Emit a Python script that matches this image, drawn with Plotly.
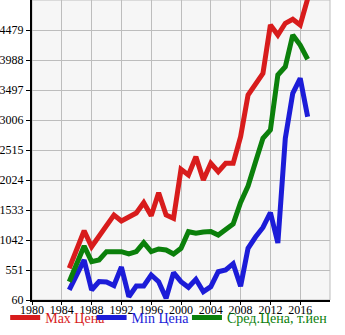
import plotly.graph_objects as go

years = list(range(1985, 2018))
max_price = [579, 895, 1194, 932, 1107, 1288, 1451, 1353, 1418, 1484, 1653, 1440, 1816, 1451, 1397,
             2199, 2106, 2405, 2024, 2297, 2160, 2297, 2297, 2733, 3415, 3579, 3770, 4561, 4397,
             4589, 4654, 4561, 4990]
min_price = [224, 469, 715, 224, 363, 355, 297, 600, 114, 289, 289, 469, 360, 88, 507,
             360, 268, 399, 196, 278, 523, 551, 654, 284, 906, 1091, 1247, 1492, 993,
             2707, 3443, 3689, 3060]
avg_price = [360, 649, 944, 687, 715, 851, 846, 851, 813, 851, 998, 851, 895, 878, 813,
             906, 1178, 1152, 1173, 1181, 1124, 1206, 1304, 1656, 1926, 2319, 2707, 2842, 3743,
             3878, 4397, 4234, 4000]

y_ticks = [60, 551, 1042, 1533, 2024, 2515, 3006, 3497, 3988, 4479]
x_ticks = [1980, 1984, 1988, 1992, 1996, 2000, 2004, 2008, 2012, 2016]

series = [
    ("Max Цена", max_price, "#d81c1c", "legend", -0.09),
    ("Min Цена", min_price, "#1c1cd8", "legend2", 0.20),
    ("Сред.Цена, т.йен", avg_price, "#0b800b", "legend3", 0.52),
]

fig = go.Figure()
legends = {}
for name, vals, col, lg, lx in series:
    fig.add_trace(go.Scatter(
        x=years, y=vals, mode="lines",
        name=f'<span style="color:{col}">{name}</span>',
        line=dict(color=col, width=5),
        legend=lg,
    ))
    legends[lg] = dict(orientation="h", x=lx, xanchor="left", y=-0.113, yanchor="bottom",
                       font=dict(size=14), itemwidth=30,
                       borderwidth=0, bgcolor="rgba(0,0,0,0)")

fig.update_layout(
    width=345, height=335,
    margin=dict(l=30, r=15, t=0, b=35),
    paper_bgcolor="white",
    plot_bgcolor="#f6f6f6",
    font=dict(family="Liberation Serif, Times New Roman, serif", size=12, color="black"),
    showlegend=True,
    shapes=[dict(type="rect", xref="paper", yref="paper", x0=0, x1=1, y0=0, y1=1,
                 line=dict(color="#bdbdbd", width=1), layer="below")],
    **legends,
)
fig.update_xaxes(
    range=[1980, 2020], tickvals=x_ticks, ticktext=[str(v) for v in x_ticks],
    showgrid=True, gridcolor="#bdbdbd", gridwidth=1,
    showline=True, linecolor="black", linewidth=2,
    ticks="outside", ticklen=3, tickcolor="black", zeroline=False,
    ticklabelstandoff=-5,
)
fig.update_yaxes(
    range=[60, 4970], tickvals=y_ticks, ticktext=[str(v) for v in y_ticks],
    showgrid=True, gridcolor="#bdbdbd", gridwidth=1,
    showline=True, linecolor="black", linewidth=2,
    ticks="outside", ticklen=4, tickcolor="black", zeroline=False,
)

fig.write_html("out.html")
